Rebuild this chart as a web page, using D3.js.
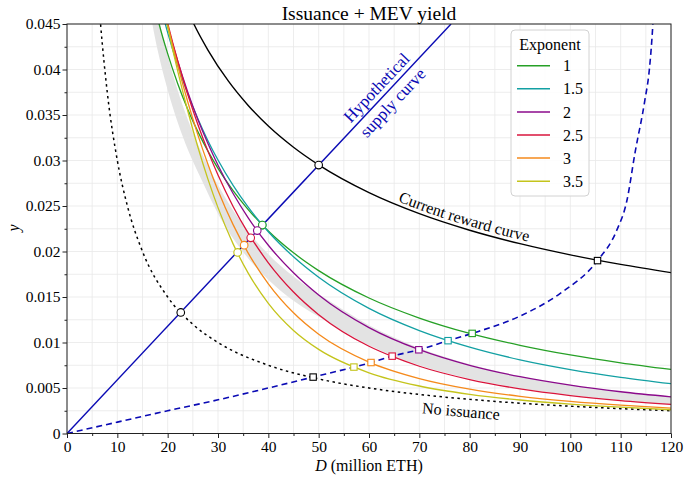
<!DOCTYPE html>
<html><head><meta charset="utf-8">
<script src="https://cdn.jsdelivr.net/npm/d3@7"></script>
<style>
body{margin:0;background:#fff}
svg{display:block}
</style>
</head><body>
<svg id="chart" width="690" height="481"></svg>
<script>
// ---------------- data ----------------
const xTicks = [0,10,20,30,40,50,60,70,80,90,100,110,120];
const xTickLabels = ["0","10","20","30","40","50","60","70","80","90","100","110","120"];
const xMinor = [5,15,25,35,45,55,65,75,85,95,105,115];
const yTicks = [0,0.005,0.01,0.015,0.02,0.025,0.03,0.035,0.04,0.045];
const yTickLabels = ["0","0.005","0.01","0.015","0.02","0.025","0.03","0.035","0.04","0.045"];
const yMinor = [0.0025,0.0075,0.0125,0.0175,0.0225,0.0275,0.0325,0.0375,0.0425];

const exponents = ["1","1.5","2","2.5","3","3.5"];

const exp1 = [[17.5,0.0468],[18.3,0.045],[20,0.04174],[22,0.03844],[24,0.03561],[26,0.03317],[28,0.03103],[30,0.02914],[33,0.02669],[36,0.02461],[40,0.02226],[45,0.01986],[50,0.0179],[60,0.01489],[70,0.01269],[80,0.011],[90,0.00969],[100,0.00863],[110,0.00777],[120,0.00704]];
const exp15 = [[18,0.04831],[19,0.04609],[20,0.04406],[22,0.04044],[24,0.03732],[26,0.03459],[28,0.03218],[30,0.03005],[33,0.02726],[36,0.02487],[40,0.02217],[45,0.01942],[50,0.01717],[60,0.01375],[70,0.01131],[80,0.00949],[90,0.0081],[100,0.00703],[110,0.00617],[120,0.00547]];
const exp2 = [[18,0.04931],[19,0.04696],[20,0.0448],[22,0.04091],[24,0.03751],[26,0.03451],[28,0.03186],[30,0.02948],[33,0.02637],[36,0.0237],[40,0.02069],[45,0.01766],[50,0.01522],[60,0.01164],[70,0.00921],[80,0.00749],[90,0.00624],[100,0.00531],[110,0.00459],[120,0.00403]];
const exp25 = [[18,0.04985],[20,0.04509],[22,0.04093],[24,0.03724],[26,0.03396],[28,0.03103],[30,0.0284],[33,0.02495],[36,0.02202],[40,0.01876],[45,0.01555],[50,0.01306],[60,0.00959],[65,0.00839],[70,0.00739],[80,0.00593],[90,0.0049],[100,0.00417],[110,0.00362],[120,0.0032]];
const exp3 = [[18,0.04998],[20,0.04494],[22,0.04045],[24,0.03643],[26,0.03282],[28,0.02959],[30,0.0267],[33,0.02295],[36,0.01982],[40,0.01645],[45,0.01326],[50,0.01091],[60,0.00785],[70,0.00604],[80,0.00488],[90,0.00409],[100,0.00353],[110,0.00311],[120,0.00278]];
const exp35 = [[18,0.05002],[20,0.04467],[22,0.03983],[24,0.03544],[26,0.03148],[28,0.02795],[30,0.02482],[33,0.02084],[36,0.01762],[40,0.0143],[45,0.01132],[50,0.00924],[60,0.00667],[70,0.00522],[80,0.00431],[90,0.00368],[100,0.00323],[110,0.00289],[120,0.00261]];
const exponentSeries = [exp1, exp15, exp2, exp25, exp3, exp35];

const currentReward = [[24,0.04645],[25.2,0.045],[28,0.04214],[32,0.03877],[36,0.03605],[40,0.03379],[45,0.03146],[50,0.02952],[60,0.02647],[70,0.02416],[80,0.02234],[90,0.02086],[100,0.01963],[110,0.01858],[120,0.01768]];
const noIssuance = [[6.3,0.0476],[6.67,0.045],[8,0.0375],[10,0.03],[12,0.025],[15,0.02],[20,0.015],[25,0.012],[30,0.01],[40,0.0075],[50,0.006],[60,0.005],[70,0.00429],[80,0.00375],[90,0.00333],[100,0.003],[110,0.00273],[120,0.0025]];
const hypotheticalSupply = [[0,0],[76.3,0.045]];
const dashedSupply = [[0,0],[10,0.00125],[20,0.0025],[30,0.0037],[40,0.005],[48.9,0.0062],[57,0.0073],[60.4,0.0078],[64.6,0.0085],[69.9,0.0092],[75.7,0.0102],[80.5,0.011],[90,0.0129],[98,0.0154],[105.4,0.019],[109.2,0.0223],[111.2,0.0255],[112.9,0.031],[114.8,0.0366],[115.7,0.04],[116.4,0.045],[116.6,0.047]];

const bandD    = [15.5,18,20,22,24,26.8,30,35,40,45,52.3,60,70,80,90,100,110,120];
const bandLow  = [0.0495,0.04213,0.03775,0.03417,0.0312,0.0278,0.02416,0.01994,0.01689,0.01459,0.0121,0.0097,0.0075,0.00603,0.00498,0.00422,0.00365,0.0032];
const bandHigh = [0.0535,0.04620,0.04150,0.03770,0.03450,0.03080,0.02730,0.02290,0.01970,0.01725,0.0145,0.0119,0.0094,0.0076,0.0063,0.00535,0.0046,0.00403];

const circleSeries = ["none","reward","1.5","1","2","2.5","3","3.5"];
const circleD = [22.6,50.0,38.8,38.8,37.8,36.5,35.2,33.9];
const circleY = [0.0133,0.0295,0.0229,0.0229,0.0223,0.0215,0.0207,0.0199];
const squareSeries = ["none","3.5","3","2.5","2","1.5","1","reward"];
const squareD = [48.9,57.0,60.4,64.6,69.9,75.7,80.5,105.4];
const squareY = [0.0062,0.0073,0.0078,0.0085,0.0092,0.0102,0.0110,0.0190];

// ---------------- styles ----------------
const FONT = "'Liberation Serif','Times New Roman',serif";
const colorOf = {"1":"#26a026","1.5":"#13a0a3","2":"#8b0a8b","2.5":"#d9143c","3":"#f58a1c","3.5":"#c4c41c","none":"#000","reward":"#000"};
const blue = "#0a0ab4";

// ---------------- layout ----------------
const svg = d3.select("#chart");
const L = 67, R = 671, T = 24, B = 433.5;
const x = d3.scaleLinear().domain([0,120]).range([L,R]);
const y = d3.scaleLinear().domain([0,0.045]).range([B,T]);

const defs = svg.append("defs");
defs.append("clipPath").attr("id","clip")
  .append("rect").attr("x",L).attr("y",T).attr("width",R-L).attr("height",B-T);

// grid
const grid = svg.append("g").attr("stroke","#e9e9e9").attr("stroke-width",0.8);
grid.selectAll("line.gx").data(xTicks.concat(xMinor)).join("line")
  .attr("x1",d=>x(d)).attr("x2",d=>x(d)).attr("y1",T).attr("y2",B);
grid.selectAll("line.gy").data(yTicks.concat(yMinor)).join("line")
  .attr("y1",d=>y(d)).attr("y2",d=>y(d)).attr("x1",L).attr("x2",R);

const plot = svg.append("g").attr("clip-path","url(#clip)");

// grey band
const area = d3.area().x(d=>x(d[0])).y0(d=>y(d[1])).y1(d=>y(d[2])).curve(d3.curveMonotoneX);
plot.append("path").datum(bandD.map((d,i)=>[d,bandLow[i],bandHigh[i]]))
  .attr("d",area).attr("fill","#e3e3e3").attr("stroke","none");

const line = d3.line().x(d=>x(d[0])).y(d=>y(d[1])).curve(d3.curveMonotoneX);

plot.append("path").datum(noIssuance).attr("d",line).attr("fill","none")
  .attr("stroke","#000").attr("stroke-width",1.5).attr("stroke-dasharray","2.5,3.5");
plot.append("path").datum(dashedSupply).attr("d",line).attr("fill","none")
  .attr("stroke",blue).attr("stroke-width",1.6).attr("stroke-dasharray","6,4");
plot.append("path").datum(hypotheticalSupply).attr("d",line).attr("fill","none")
  .attr("stroke",blue).attr("stroke-width",1.4);
plot.append("path").datum(currentReward).attr("d",line).attr("fill","none")
  .attr("stroke","#000").attr("stroke-width",1.4);
exponentSeries.forEach((s,i)=>{
  plot.append("path").datum(s).attr("d",line).attr("fill","none")
    .attr("stroke",colorOf[exponents[i]]).attr("stroke-width",1.3);
});

// markers
const mk = svg.append("g");
circleD.forEach((d,i)=>{
  mk.append("circle").attr("cx",x(d)).attr("cy",y(circleY[i])).attr("r",3.8)
    .attr("fill","#fff").attr("stroke",colorOf[circleSeries[i]]).attr("stroke-width",1.1);
});
squareD.forEach((d,i)=>{
  const s = 6.4;
  mk.append("rect").attr("x",x(d)-s/2).attr("y",y(squareY[i])-s/2).attr("width",s).attr("height",s)
    .attr("fill","#fff").attr("stroke",colorOf[squareSeries[i]]).attr("stroke-width",1.1);
});

// frame
svg.append("rect").attr("x",L).attr("y",T).attr("width",R-L).attr("height",B-T)
  .attr("fill","none").attr("stroke","#222").attr("stroke-width",1);

// axes
function styleAxis(g){
  g.attr("font-family",null).attr("font-size",null);
  g.select(".domain").remove();
  g.selectAll("line").attr("stroke","#222");
  g.selectAll("text").style("font-family",FONT).style("font-size","15.5px").style("fill","#000");
}
svg.append("g").attr("transform",`translate(0,${B})`)
  .call(d3.axisBottom(x).tickValues(xTicks).tickFormat((d,i)=>xTickLabels[i]).tickSize(4.5).tickPadding(3))
  .call(styleAxis);
svg.append("g").attr("transform",`translate(0,${B})`)
  .call(d3.axisBottom(x).tickValues(xMinor).tickFormat("").tickSize(2.5)).call(styleAxis);
svg.append("g").attr("transform",`translate(${L},0)`)
  .call(d3.axisLeft(y).tickValues(yTicks).tickFormat((d,i)=>yTickLabels[i]).tickSize(4.5).tickPadding(2))
  .call(styleAxis);
svg.append("g").attr("transform",`translate(${L},0)`)
  .call(d3.axisLeft(y).tickValues(yMinor).tickFormat("").tickSize(2.5)).call(styleAxis);

function txt(g){ return g.append("text").style("font-family",FONT).style("fill","#000"); }

// title & axis labels
txt(svg).attr("x",(L+R)/2).attr("y",20).attr("text-anchor","middle")
  .style("font-size","19.5px").text("Issuance + MEV yield");
const xl = txt(svg).attr("x",(L+R)/2).attr("y",471).attr("text-anchor","middle").style("font-size","16px");
xl.append("tspan").style("font-style","italic").text("D");
xl.append("tspan").text(" (million ETH)");
txt(svg).attr("transform","translate(19,228) rotate(-90)").attr("text-anchor","middle")
  .style("font-size","16px").style("font-style","italic").text("y");

// hypothetical supply label
const ang = Math.atan2(y(hypotheticalSupply[1][1])-y(0), x(hypotheticalSupply[1][0])-x(0))*180/Math.PI;
const ux = Math.cos(ang*Math.PI/180), uy = Math.sin(ang*Math.PI/180);
const t0 = 464, off = 11;
const px0 = x(0)+ux*t0, py0 = y(0)+uy*t0;
const nX = -Math.abs(uy), nY = -Math.abs(ux); // up-left normal
txt(svg).attr("transform",`translate(${px0+off*nX},${py0+off*nY}) rotate(${ang})`)
  .attr("text-anchor","middle").attr("dy","0.35em").style("font-size","17px").style("fill",blue).text("Hypothetical");
txt(svg).attr("transform",`translate(${px0-off*nX},${py0-off*nY}) rotate(${ang})`)
  .attr("text-anchor","middle").attr("dy","0.35em").style("font-size","17px").style("fill",blue).text("supply curve");

// current reward curve label along the curve
const offLine = d3.line().x(d=>x(d[0])).y(d=>y(d[1])-4).curve(d3.curveMonotoneX);
const lp = defs.append("path").attr("id","rewardPath").attr("d",offLine(currentReward));
const node = lp.node();
const total = node.getTotalLength();
const targetX = x(78.5);
let lo = 0, hi = total;
for(let k=0;k<40;k++){ const m=(lo+hi)/2; if(node.getPointAtLength(m).x<targetX) lo=m; else hi=m; }
txt(svg).style("font-size","16px").attr("text-anchor","middle")
  .append("textPath").attr("href","#rewardPath").attr("startOffset",lo).text("Current reward curve");

// no issuance label
txt(svg).attr("transform","translate(461,411) rotate(5)").attr("text-anchor","middle")
  .attr("dy","0.35em").style("font-size","16px").text("No issuance");

// legend
const lg = svg.append("g");
lg.append("rect").attr("x",511).attr("y",30).attr("width",78).attr("height",166).attr("rx",4)
  .attr("fill","#fff").attr("fill-opacity",0.85).attr("stroke","#d2d2d2").attr("stroke-width",1);
txt(lg).attr("x",550).attr("y",44).attr("dy","0.35em").attr("text-anchor","middle")
  .style("font-size","16px").text("Exponent");
exponents.forEach((e,i)=>{
  const yy = 65.7 + i*23.1;
  lg.append("line").attr("x1",517).attr("x2",550).attr("y1",yy).attr("y2",yy)
    .attr("stroke",colorOf[e]).attr("stroke-width",1.5);
  txt(lg).attr("x",563).attr("y",yy).attr("dy","0.35em").style("font-size","16px").text(e);
});
</script>
</body></html>
